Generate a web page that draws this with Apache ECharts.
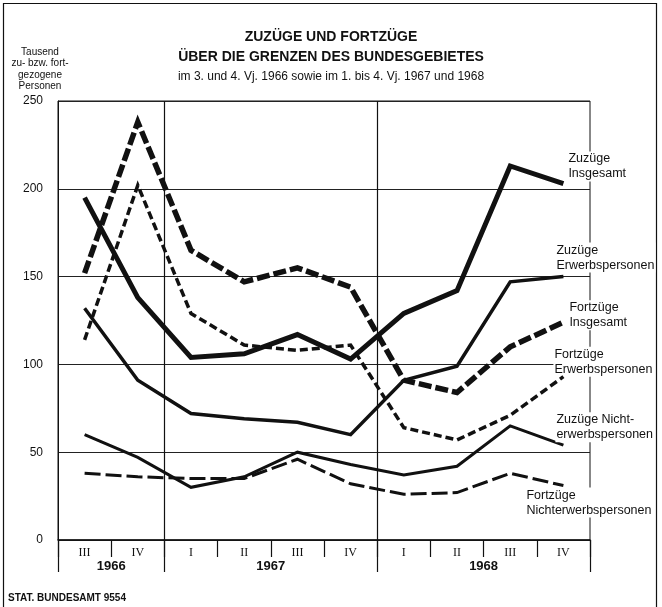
<!DOCTYPE html>
<html><head><meta charset="utf-8">
<script src="https://cdn.jsdelivr.net/npm/echarts@6/dist/echarts.min.js"></script>
<style>html,body{margin:0;padding:0;background:#fff}#c{width:662px;height:607px}</style>
</head><body><div id="c"></div>
<script>
const quarters = ['III','IV','I','II','III','IV','I','II','III','IV'];
const yearTicks = ['', '1966', '', '', '1967', '', '', '', '1968', '', ''];
const zuzuegeInsgesamt = [195, 138, 104, 106, 117, 103, 129, 142, 213, 203];
const zuzuegeErwerb = [132, 91, 72, 69, 67, 60, 91, 99, 147, 150];
const fortzuegeInsgesamt = [152, 238, 165, 147, 155, 144, 91, 84, 110, 124];
const fortzuegeErwerb = [114, 202, 129, 111, 108, 111, 64, 57, 71, 93];
const zuzuegeNichterwerb = [60, 47, 30, 36, 50, 43, 37, 42, 65, 54];
const fortzuegeNichterwerb = [38, 36, 35, 35, 46, 32, 26, 27, 38, 31];
const seriesNames = ['Zuzüge\nInsgesamt','Zuzüge\nErwerbspersonen','Fortzüge\nInsgesamt','Fortzüge\nErwerbspersonen','Zuzüge Nicht-\nerwerbspersonen','Fortzüge\nNichterwerbspersonen'];

const INK = '#111';
const SANS = '"Liberation Sans", Arial, sans-serif';

function mk(name, data, width, type, offset, z) {
  const last = data.length - 1;
  return {
    name: name, type: 'line', data: data, symbol: 'none', z: z,
    lineStyle: { color: INK, width: width, type: type, cap: 'butt', join: 'miter' },
    emphasis: { disabled: true },
    markPoint: {
      symbol: 'circle', symbolSize: 0, silent: true,
      data: [{ coord: [last, data[last]] }],
      label: {
        show: true, position: 'right', distance: 0, offset: offset,
        formatter: name, color: INK, fontFamily: SANS, fontSize: 12.5, lineHeight: 15,
        align: 'left', verticalAlign: 'middle', backgroundColor: '#fff', padding: [0, 1]
      }
    }
  };
}

const chart = echarts.init(document.getElementById('c'), null, { renderer: 'canvas' });
chart.setOption({
  animation: false,
  backgroundColor: '#fff',
  grid: { left: 58, top: 101, width: 532, height: 439, show: true, borderColor: INK, borderWidth: 1, backgroundColor: 'transparent' },
  xAxis: [
    {
      type: 'category', data: quarters, boundaryGap: true, position: 'bottom',
      axisLine: { show: true, lineStyle: { color: INK, width: 1.5 } },
      axisTick: { show: true, interval: 0, length: 17, lineStyle: { color: INK, width: 1.2 } },
      axisLabel: { interval: 0, margin: 7, fontSize: 12, fontFamily: '"Liberation Serif", serif', color: INK },
      splitLine: { show: false }
    },
    {
      type: 'category', data: yearTicks, boundaryGap: false, position: 'bottom',
      axisLine: { show: false },
      axisTick: { show: true, interval: function (i) { return i === 0 || i === 2 || i === 6 || i === 10; }, length: 32, lineStyle: { color: INK, width: 1.2 } },
      axisLabel: { interval: 0, margin: 20, fontSize: 13, fontWeight: 'bold', fontFamily: SANS, color: INK },
      splitLine: { show: true, interval: function (i) { return i === 2 || i === 6; }, lineStyle: { color: INK, width: 1.2 } }
    }
  ],
  yAxis: {
    type: 'value', min: 0, max: 250, interval: 50,
    axisLine: { show: true, lineStyle: { color: INK, width: 1 } },
    axisTick: { show: false },
    axisLabel: { margin: 15, fontSize: 12, fontFamily: SANS, color: INK },
    splitLine: { show: true, lineStyle: { color: '#222', width: 1 } }
  },
  series: [
    mk(seriesNames[0], zuzuegeInsgesamt, 5, 'solid', [4, -17], 6),
    mk(seriesNames[1], zuzuegeErwerb, 3.5, 'solid', [-8, -19], 5),
    mk(seriesNames[2], fortzuegeInsgesamt, 5.5, [13, 4], [5, -7], 6),
    mk(seriesNames[3], fortzuegeErwerb, 3.5, [8, 4], [-10, -15], 5),
    mk(seriesNames[4], zuzuegeNichterwerb, 3, 'solid', [-8, -18], 4),
    mk(seriesNames[5], fortzuegeNichterwerb, 3, [16, 5], [-38, 17], 4)
  ],
  graphic: [
    { type: 'rect', silent: true, shape: { x: 3.5, y: 3.5, width: 653, height: 620 }, style: { fill: 'none', stroke: INK, lineWidth: 1.2 } },
    { type: 'text', x: 331, y: 37, style: { text: 'ZUZÜGE UND FORTZÜGE', fill: INK, font: 'bold 14px ' + SANS, textAlign: 'center', textVerticalAlign: 'middle' } },
    { type: 'text', x: 331, y: 57, style: { text: 'ÜBER DIE GRENZEN DES BUNDESGEBIETES', fill: INK, font: 'bold 14px ' + SANS, textAlign: 'center', textVerticalAlign: 'middle' } },
    { type: 'text', x: 331, y: 77, style: { text: 'im 3. und 4. Vj. 1966 sowie im 1. bis 4. Vj. 1967 und 1968', fill: INK, font: '12px ' + SANS, textAlign: 'center', textVerticalAlign: 'middle' } },
    { type: 'text', x: 40, y: 52, style: { text: 'Tausend', fill: INK, font: '10px ' + SANS, textAlign: 'center', textVerticalAlign: 'middle' } },
    { type: 'text', x: 40, y: 63, style: { text: 'zu- bzw. fort-', fill: INK, font: '10px ' + SANS, textAlign: 'center', textVerticalAlign: 'middle' } },
    { type: 'text', x: 40, y: 75, style: { text: 'gezogene', fill: INK, font: '10px ' + SANS, textAlign: 'center', textVerticalAlign: 'middle' } },
    { type: 'text', x: 40, y: 86, style: { text: 'Personen', fill: INK, font: '10px ' + SANS, textAlign: 'center', textVerticalAlign: 'middle' } },
    { type: 'text', x: 8, y: 598, style: { text: 'STAT. BUNDESAMT 9554', fill: INK, font: 'bold 10px ' + SANS, textAlign: 'left', textVerticalAlign: 'middle' } }
  ]
});
</script></body></html>
